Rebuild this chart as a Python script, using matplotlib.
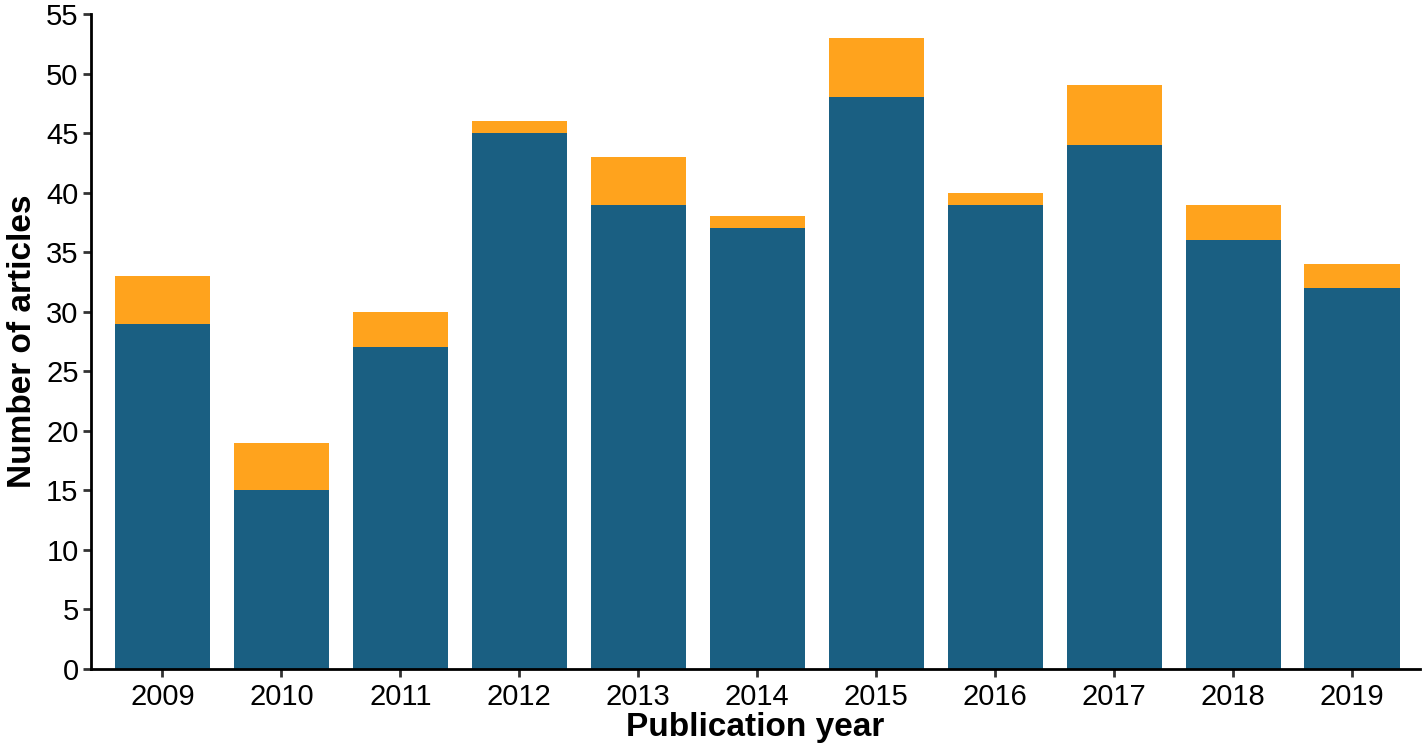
import matplotlib
matplotlib.use("Agg")
import matplotlib.pyplot as plt
import numpy as np

plt.rcParams['font.family'] = ['Liberation Sans', 'DejaVu Sans']

years = ["2009", "2010", "2011", "2012", "2013", "2014", "2015", "2016", "2017", "2018", "2019"]
base = [29, 15, 27, 45, 39, 37, 48, 39, 44, 36, 32]
extra = [4, 4, 3, 1, 4, 1, 5, 1, 5, 3, 2]

colorBase = "#1a5f82"
colorExtra = "#ffa31d"

fig = plt.figure(figsize=(14.27, 7.54), dpi=100)
ax = fig.add_axes([0.0638, 0.1127, 0.9312, 0.8687])

x = np.arange(len(years))
ax.bar(x, base, width=0.8, color=colorBase)
ax.bar(x, extra, width=0.8, bottom=base, color=colorExtra)

ax.set_xlim(-0.6, 10.57)
ax.set_ylim(0, 55)
ax.set_yticks(np.arange(0, 56, 5))
ax.set_xticks(x)
ax.set_xticklabels(years)

for side in ["top", "right"]:
    ax.spines[side].set_visible(False)
for side in ["left", "bottom"]:
    ax.spines[side].set_linewidth(2)
ax.tick_params(axis="both", labelsize=21, width=2, length=6, color="#333333")
ax.tick_params(axis="x", pad=4)
ax.tick_params(axis="y", pad=3)

ax.set_xlabel("Publication year", fontsize=24, fontweight="bold", labelpad=1)
ax.set_ylabel("Number of articles", fontsize=24, fontweight="bold", labelpad=6)

fig.savefig("out.png", dpi=100)
